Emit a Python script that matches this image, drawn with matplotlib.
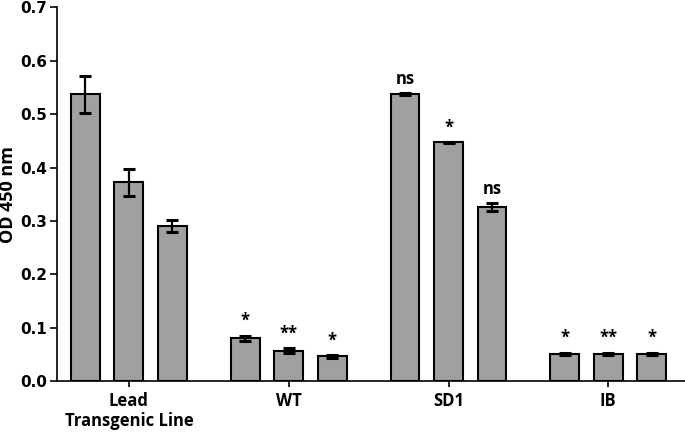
import matplotlib
matplotlib.use("Agg")
import matplotlib.pyplot as plt
import numpy as np

plt.rcParams['font.family'] = ['Open Sans', 'DejaVu Sans']
plt.rcParams['font.weight'] = 'bold'

groups = ["Lead\nTransgenic Line", "WT", "SD1", "IB"]
values = [
    [0.537, 0.372, 0.291],
    [0.080, 0.057, 0.046],
    [0.537, 0.447, 0.326],
    [0.051, 0.051, 0.051],
]
errors = [
    [0.035, 0.026, 0.011],
    [0.005, 0.004, 0.002],
    [0.002, 0.001, 0.007],
    [0.002, 0.002, 0.002],
]
labels = [
    ["", "", ""],
    ["*", "**", "*"],
    ["ns", "*", "ns"],
    ["*", "**", "*"],
]
yticks = [0.0, 0.1, 0.2, 0.3, 0.4, 0.5, 0.6, 0.7]

fig = plt.figure(figsize=(6.85, 4.34), dpi=100)
ax = fig.add_axes([57/685, 53/434, 1 - 57/685, (381 - 7.4)/434])

offsets = [-0.272, 0.0, 0.272]
width = 0.181
for gi, (vals, errs, labs) in enumerate(zip(values, errors, labels)):
    for bi in range(3):
        x = gi + offsets[bi]
        ax.bar(x, vals[bi], width=width, color='#a0a0a0', edgecolor='black',
               linewidth=1.5, zorder=2)
        ax.errorbar(x, vals[bi], yerr=errs[bi], color='black', elinewidth=1.6,
                    capsize=4.5, capthick=2.2, fmt='none', zorder=3)
        if labs[bi]:
            ax.annotate(labs[bi], (x, vals[bi] + errs[bi]), xytext=(0, 4),
                        textcoords='offset points', ha='center', va='bottom',
                        fontsize=12, fontweight='bold')

ax.set_xlim(-0.45, 3.48)
ax.set_ylim(0, 0.7)
ax.set_yticks(yticks)
ax.set_yticklabels([f"{t:.1f}" for t in yticks], family='DejaVu Sans',
                   fontweight='bold', fontsize=11)
ax.set_xticks(range(len(groups)))
ax.set_xticklabels(groups, fontsize=12, fontweight='bold', linespacing=1.1)
ax.tick_params(axis='y', width=1.2, length=5, pad=2)
ax.tick_params(axis='x', width=1.2, length=4, pad=4)
ax.set_ylabel("OD 450 nm", fontsize=13, fontweight='bold')
ax.yaxis.set_label_coords(-40/628, 0.5)
ax.spines['top'].set_visible(False)
ax.spines['right'].set_visible(False)
ax.spines['left'].set_linewidth(1.2)
ax.spines['bottom'].set_linewidth(1.2)

fig.savefig("out.png", dpi=100)
